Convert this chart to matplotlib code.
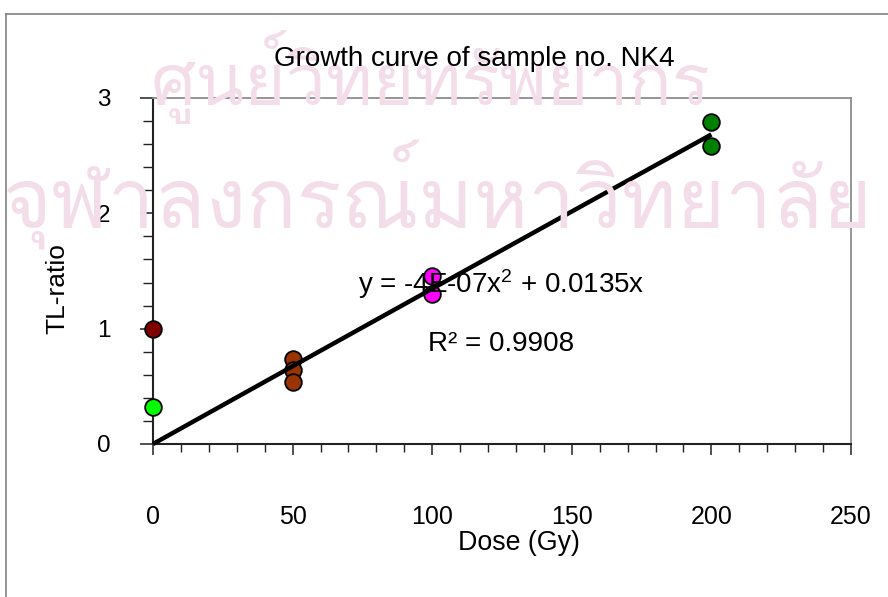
import numpy as np
import matplotlib
matplotlib.use("Agg")
import matplotlib.pyplot as plt
from matplotlib import font_manager
from matplotlib.ft2font import FT2Font
from matplotlib.lines import Line2D
from matplotlib.ticker import MultipleLocator

plt.rcParams["font.family"] = ["Liberation Sans", "DejaVu Sans"]
plt.rcParams["mathtext.fontset"] = "custom"
plt.rcParams["mathtext.rm"] = "Liberation Sans"
plt.rcParams["mathtext.it"] = "Liberation Sans:italic"

# ---- data: TL-ratio per dose group -------------------------------------
natural_dose = [0]
natural_tl = [0.32]

norm_dose = [0]
norm_tl = [1.0]

dose_50 = [50, 50, 50]
tl_50 = [0.74, 0.64, 0.54]

dose_100 = [100, 100]
tl_100 = [1.46, 1.30]

dose_200 = [200, 200]
tl_200 = [2.79, 2.58]

# polynomial trend line (no intercept)
coef_x2 = -4e-07
coef_x1 = 0.0135
r_squared = 0.9908
fit_range = [0, 200]

title_text = "Growth curve of sample no. NK4"
xlabel_text = "Dose (Gy)"
ylabel_text = "TL-ratio"
watermark_lines = ["ศูนย์วิทยทรัพยากร", "จุฬาลงกรณ์มหาวิทยาลัย"]

W, H = 888, 597
fig = plt.figure(figsize=(W / 100, H / 100), dpi=100)
fig.patch.set_facecolor("white")


def fx(px):
    return px / W


def fy(py):
    return 1 - py / H


# ---- faint background lettering -----------------------------------------
def find_thai_font():
    probe = [ord(c) for c in "ศูนย์จุฬาลงกรณ"]
    seen = set()
    found = []
    for f in font_manager.fontManager.ttflist:
        if f.fname in seen:
            continue
        seen.add(f.fname)
        try:
            cmap = FT2Font(f.fname).get_charmap()
        except Exception:
            continue
        if all(p in cmap for p in probe):
            found.append(f)
    if not found:
        return None

    def rank(f):
        label = (str(f.stretch) + " " + f.name + " " + f.fname).lower()
        narrow = 0 if ("condensed" in label or "narrow" in label) else 1
        w = f.weight if isinstance(f.weight, int) else (400 if f.weight in ("normal", "regular", "book") else 700)
        italic = 0 if f.style == "normal" else 1
        return (italic, abs(w - 400) > 100, narrow)

    best = sorted(found, key=rank)[0]
    return font_manager.FontProperties(fname=best.fname)


thai = find_thai_font()
if thai is not None:
    renderer = fig.canvas.get_renderer()
    specs = [(watermark_lines[0], 150, 105, 560), (watermark_lines[1], 2, 228, 870)]
    for txt, x0, base, width in specs:
        t = fig.text(fx(x0), fy(base), txt, fontproperties=thai, fontsize=60,
                     color="#f2dde8", ha="left", va="baseline", zorder=0)
        w = t.get_window_extent(renderer).width
        if w > 0:
            t.set_fontsize(60 * width / w)

# ---- outer chart frame -----------------------------------------------------
frame_col = "#808080"
fig.add_artist(Line2D([fx(6), fx(6)], [fy(14), 0], transform=fig.transFigure,
                      color=frame_col, lw=1.2))
fig.add_artist(Line2D([fx(6), 1], [fy(14), fy(14)], transform=fig.transFigure,
                      color=frame_col, lw=1.2))

# ---- plot area -------------------------------------------------------------
left, right, top, bottom = 153, 851, 98, 444
ax = fig.add_axes([fx(left), fy(bottom), fx(right - left), (bottom - top) / H])
ax.set_facecolor("none")
ax.set_xlim(0, 250)
ax.set_ylim(0, 3)

for side in ("top", "right"):
    ax.spines[side].set_color("#8c8c8c")
    ax.spines[side].set_linewidth(1.3)
for side in ("left", "bottom"):
    ax.spines[side].set_color("#222222")
    ax.spines[side].set_linewidth(1.5)

ax.xaxis.set_major_locator(MultipleLocator(50))
ax.xaxis.set_minor_locator(MultipleLocator(10))
ax.yaxis.set_major_locator(MultipleLocator(1))
ax.yaxis.set_minor_locator(MultipleLocator(0.2))

ax.tick_params(axis="x", which="major", direction="out", length=8, width=1.1,
               color="#222222", pad=36, labelsize=18)
ax.tick_params(axis="x", which="minor", direction="out", length=6, width=1.0,
               color="#222222")
ax.tick_params(axis="y", which="major", direction="out", length=9.5, width=1.1,
               color="#222222", pad=21, labelsize=17.5)
ax.tick_params(axis="y", which="minor", direction="out", length=7, width=1.0,
               color="#222222")
ax.set_xticks([0, 50, 100, 150, 200, 250])
ax.set_yticks([0, 1, 2, 3])
ax.set_yticklabels(["0", "1", "2", "3"])

marker_kw = dict(marker="o", ls="none", ms=12, mec="black", mew=1.3,
                 clip_on=False, zorder=3)
ax.plot(natural_dose, natural_tl, mfc="#00ff00", **marker_kw)
ax.plot(norm_dose, norm_tl, mfc="#800000", **marker_kw)
ax.plot(dose_50, tl_50, mfc="#993300", **marker_kw)
ax.plot(dose_100, tl_100, mfc="#ff00ff", **marker_kw)
ax.plot(dose_200, tl_200, mfc="#008000", **marker_kw)

xf = np.linspace(fit_range[0], fit_range[1], 101)
yf = coef_x2 * xf ** 2 + coef_x1 * xf
ax.plot(xf, yf, color="black", lw=3.2, solid_capstyle="butt", zorder=4,
        clip_on=False)

# ---- text -------------------------------------------------------------------
eq = "y = -4E-07x$\\mathregular{^2}$ + 0.0135x"
fig.text(fx(358), fy(293), eq, fontsize=20, ha="left", va="baseline", zorder=2)
fig.text(fx(428), fy(351), f"R\u00b2 = {r_squared}", fontsize=20, ha="left",
         va="baseline", zorder=2)

fig.text(fx(474), fy(66), title_text, fontsize=20, ha="center", va="baseline")
fig.text(fx(519), fy(550), xlabel_text, fontsize=19.3, ha="center", va="baseline")
fig.text(fx(57), fy(289), ylabel_text, fontsize=19, ha="center", va="center",
         rotation=90)

fig.savefig("out.png", dpi=100)
